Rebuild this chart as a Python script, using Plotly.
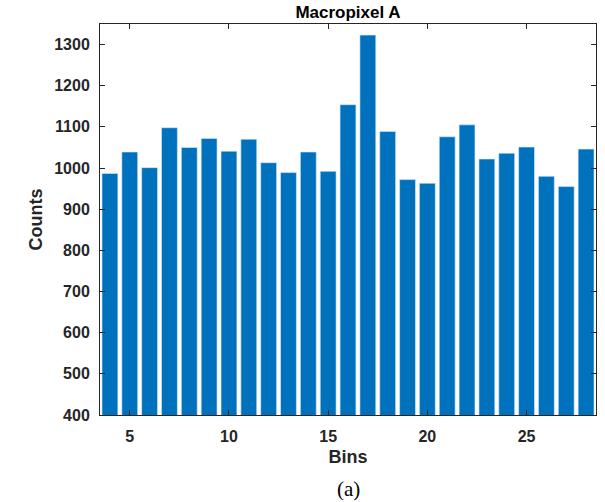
import plotly.graph_objects as go

bins = list(range(4, 29))
counts = [987, 1039, 1001, 1098, 1050, 1072, 1041, 1070, 1013, 989, 1039, 992,
          1154, 1323, 1089, 972, 963, 1076, 1105, 1022, 1036, 1051, 980, 955, 1046]
x_ticks = [5, 10, 15, 20, 25]
y_ticks = [400, 500, 600, 700, 800, 900, 1000, 1100, 1200, 1300]

W, H = 605, 502
ML, MR, MT, MB = 100, 9, 24, 87
axcol = "#262626"
sans = "Liberation Sans, Arial, sans-serif"
tickfnt = dict(family=sans, size=16, color=axcol)
titfnt = dict(family=sans, size=18, color=axcol)

fig = go.Figure(go.Bar(
    x=bins, y=counts, width=0.8,
    marker=dict(color="#0072BD", line=dict(color="#d8ecf8", width=0.6)),
))

fig.update_layout(
    width=W, height=H,
    margin=dict(l=ML, r=MR, t=MT, b=MB, autoexpand=False),
    paper_bgcolor="white", plot_bgcolor="white",
    showlegend=False,
    title=dict(text="<b>Macropixel A</b>", x=(ML + (W - ML - MR) / 2) / W, xref="container",
               xanchor="center", y=1 - 12 / H, yref="container", yanchor="middle",
               font=dict(family=sans, size=17, color="black")),
)
fig.update_xaxes(
    range=[3.5, 28.5], tickvals=x_ticks, ticktext=[f"<b>{v}</b>" for v in x_ticks],
    ticks="inside", ticklen=5, tickcolor=axcol, tickwidth=1,
    showline=True, linecolor=axcol, linewidth=1, mirror="ticks",
    showgrid=False, zeroline=False, tickfont=tickfnt, automargin=False,
    ticklabelstandoff=7,
    title=dict(text="<b>Bins</b>", font=titfnt, standoff=6),
)
fig.update_yaxes(
    range=[400, 1350], tickvals=y_ticks, ticktext=[f"<b>{v}</b>" for v in y_ticks],
    ticks="inside", ticklen=5, tickcolor=axcol, tickwidth=1,
    showline=True, linecolor=axcol, linewidth=1, mirror="ticks",
    showgrid=False, zeroline=False, tickfont=tickfnt, automargin=False,
    ticklabelstandoff=6,
    title=dict(text="<b>Counts</b>", font=titfnt, standoff=6),
)
plot_h = H - MT - MB
fig.add_annotation(text="(a)", x=0.5, xref="paper",
                   y=-(489 - (H - MB)) / plot_h, yref="paper",
                   showarrow=False, yanchor="middle",
                   font=dict(family="Liberation Serif, Times New Roman, serif", size=21, color="black"))
fig.write_html("out.html", config={"displayModeBar": False},
               post_script="document.body.style.margin='0px';document.body.style.overflow='hidden';")
